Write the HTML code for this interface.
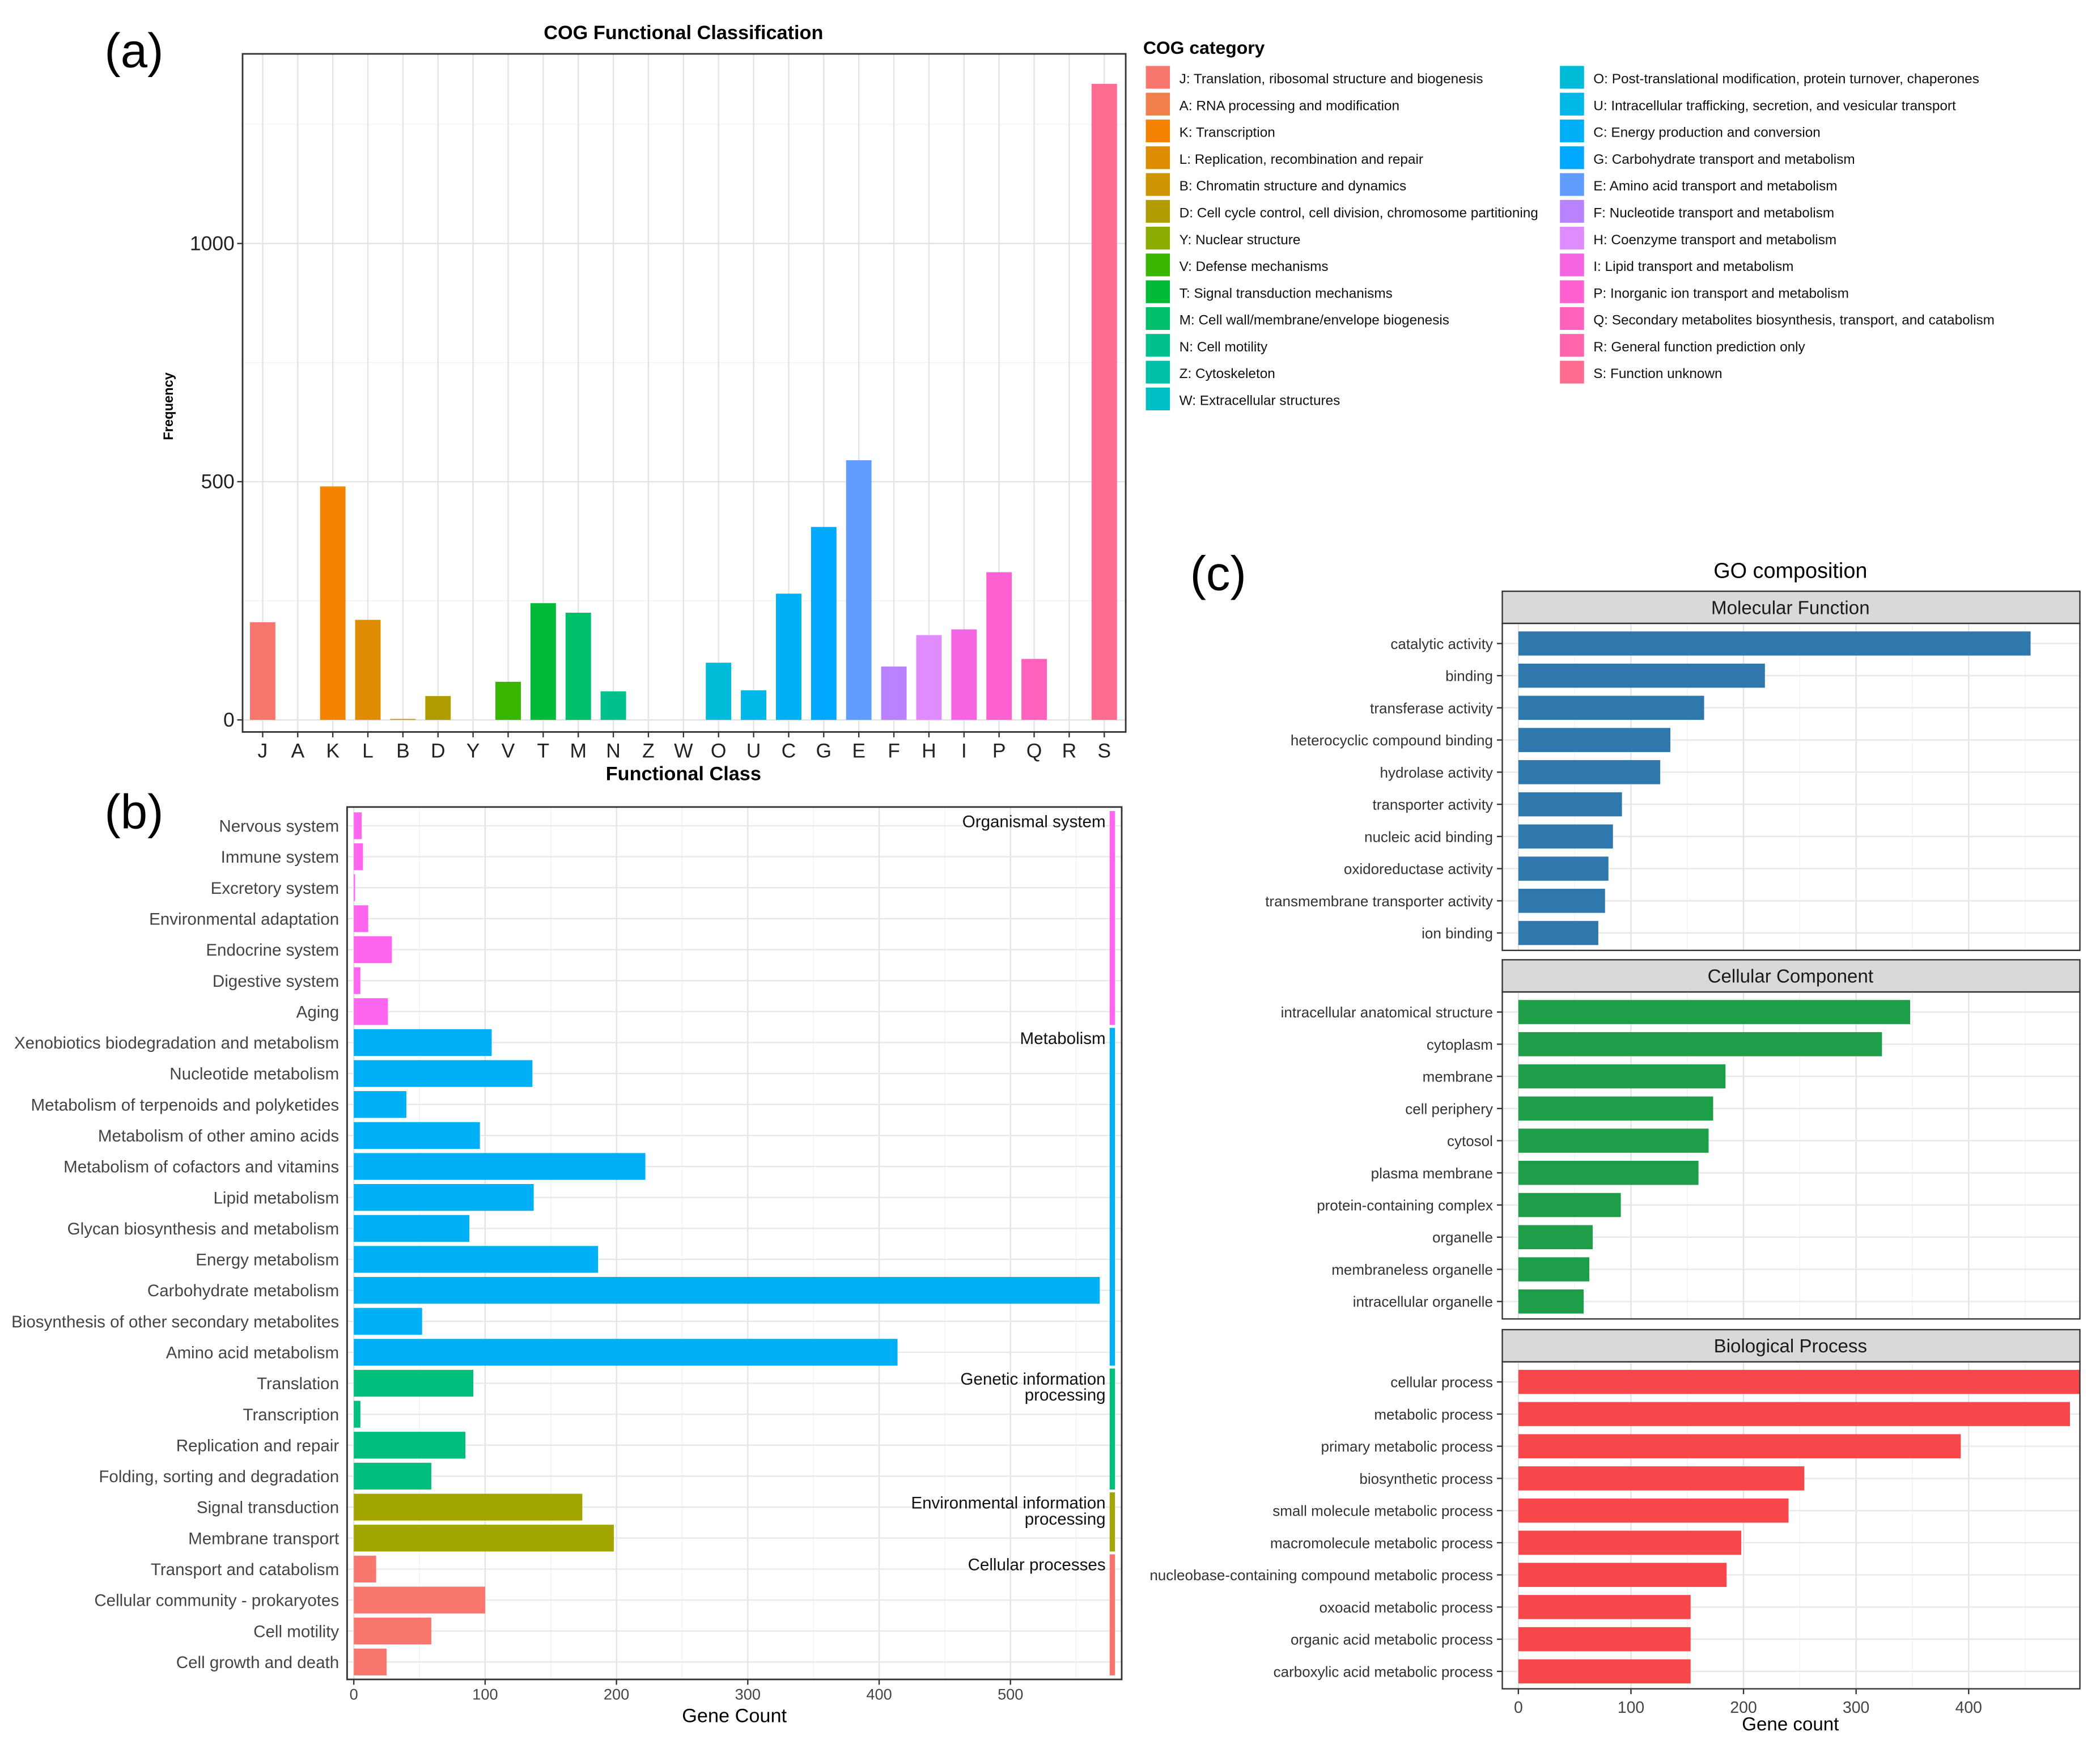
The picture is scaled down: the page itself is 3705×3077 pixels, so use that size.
<!DOCTYPE html>
<html><head><meta charset="utf-8"><style>
html,body{margin:0;padding:0;background:#fff}
svg{display:block;font-family:"Liberation Sans",Arial,sans-serif}
</style></head><body>
<svg id="fig" width="3705" height="3077" viewBox="0 0 1567 1301" xmlns="http://www.w3.org/2000/svg">
<rect width="1567" height="1301" fill="#fff"/>
<text x="78" y="50" font-size="36">(a)</text>
<text x="78" y="618" font-size="36">(b)</text>
<text x="888" y="440" font-size="36">(c)</text>
<g id="ga"></g>
<g id="gb"></g>
<g id="gc"></g>
</svg>
<script>
// ---- Panel (a) data
const cogCats = ["J","A","K","L","B","D","Y","V","T","M","N","Z","W","O","U","C","G","E","F","H","I","P","Q","R","S"];
const cogValues = [205,0,490,210,2,50,0,80,245,225,60,0,0,120,62,265,405,545,112,178,190,310,128,0,1335];
const cogTicks = [0,500,1000];
const cogColors = ["#F8766D","#F07F4B","#F48400","#DE8C00","#CD9600","#B09C00","#8BAB00","#39B600","#00BA38","#00BF6B","#00C08B","#00C1A7","#00BFC4","#00BCD8","#00B8E7","#00B0F6","#00A9FF","#619CFF","#B983FF","#DE8CFF","#F564E3","#FD61D1","#FF62BC","#FF65AC","#FF6C91"];
const cogLegend = ["J: Translation, ribosomal structure and biogenesis","A: RNA processing and modification","K: Transcription","L: Replication, recombination and repair","B: Chromatin structure and dynamics","D: Cell cycle control, cell division, chromosome partitioning","Y: Nuclear structure","V: Defense mechanisms","T: Signal transduction mechanisms","M: Cell wall/membrane/envelope biogenesis","N: Cell motility","Z: Cytoskeleton","W: Extracellular structures","O: Post-translational modification, protein turnover, chaperones","U: Intracellular trafficking, secretion, and vesicular transport","C: Energy production and conversion","G: Carbohydrate transport and metabolism","E: Amino acid transport and metabolism","F: Nucleotide transport and metabolism","H: Coenzyme transport and metabolism","I: Lipid transport and metabolism","P: Inorganic ion transport and metabolism","Q: Secondary metabolites biosynthesis, transport, and catabolism","R: General function prediction only","S: Function unknown"];
// ---- Panel (b) data
const keggCats = ["Nervous system","Immune system","Excretory system","Environmental adaptation","Endocrine system","Digestive system","Aging","Xenobiotics biodegradation and metabolism","Nucleotide metabolism","Metabolism of terpenoids and polyketides","Metabolism of other amino acids","Metabolism of cofactors and vitamins","Lipid metabolism","Glycan biosynthesis and metabolism","Energy metabolism","Carbohydrate metabolism","Biosynthesis of other secondary metabolites","Amino acid metabolism","Translation","Transcription","Replication and repair","Folding, sorting and degradation","Signal transduction","Membrane transport","Transport and catabolism","Cellular community - prokaryotes","Cell motility","Cell growth and death"];
const keggValues = [6,7,1,11,29,5,26,105,136,40,96,222,137,88,186,568,52,414,91,5,85,59,174,198,17,100,59,25];
const keggGroup = [0,0,0,0,0,0,0,1,1,1,1,1,1,1,1,1,1,1,2,2,2,2,3,3,4,4,4,4];
const keggGroupNames = [["Organismal system"],["Metabolism"],["Genetic information","processing"],["Environmental information","processing"],["Cellular processes"]];
const keggGroupColors = ["#FF66F0","#00B0F6","#00BF7D","#A3A500","#F8766D"];
const keggTicks = [0,100,200,300,400,500];
// ---- Panel (c) data
const goFacets = ["Molecular Function","Cellular Component","Biological Process"];
const mfCats = ["catalytic activity","binding","transferase activity","heterocyclic compound binding","hydrolase activity","transporter activity","nucleic acid binding","oxidoreductase activity","transmembrane transporter activity","ion binding"];
const mfValues = [455,219,165,135,126,92,84,80,77,71];
const ccCats = ["intracellular anatomical structure","cytoplasm","membrane","cell periphery","cytosol","plasma membrane","protein-containing complex","organelle","membraneless organelle","intracellular organelle"];
const ccValues = [348,323,184,173,169,160,91,66,63,58];
const bpCats = ["cellular process","metabolic process","primary metabolic process","biosynthetic process","small molecule metabolic process","macromolecule metabolic process","nucleobase-containing compound metabolic process","oxoacid metabolic process","organic acid metabolic process","carboxylic acid metabolic process"];
const bpValues = [500,490,393,254,240,198,185,153,153,153];
const goColors = ["#2E78AE","#1E9E48","#F8474B"];
const goTicks = [0,100,200,300,400];

const NS="http://www.w3.org/2000/svg";
function mk(parent,tag,attrs,text){const e=document.createElementNS(NS,tag);for(const k in attrs)e.setAttribute(k,attrs[k]);if(text!==undefined)e.textContent=text;parent.appendChild(e);return e;}

// ===== Panel A
(function(){
const g=document.getElementById('ga');
const L=181,R=840,T=40,B=546;
const y=v=>537-v*0.3555;
const x=i=>196+i*(824-196)/24;
mk(g,'rect',{x:L,y:T,width:R-L,height:B-T,fill:'#fff'});
[250,750,1250].forEach(v=>mk(g,'line',{x1:L,x2:R,y1:y(v),y2:y(v),stroke:'#F2F2F2','stroke-width':0.6}));
cogTicks.forEach(v=>mk(g,'line',{x1:L,x2:R,y1:y(v),y2:y(v),stroke:'#E3E3E3','stroke-width':1}));
cogCats.forEach((c,i)=>mk(g,'line',{x1:x(i),x2:x(i),y1:T,y2:B,stroke:'#E3E3E3','stroke-width':1}));
cogValues.forEach((v,i)=>{
 const r=mk(g,'rect',{x:x(i)-9.5,y:y(v),width:19,height:Math.max(0,y(0)-y(v)),fill:cogColors[i]});
 
 
});
mk(g,'rect',{x:L,y:T,width:R-L,height:B-T,fill:'none',stroke:'#333','stroke-width':1.2});
cogTicks.forEach(v=>{mk(g,'line',{x1:L-4,x2:L,y1:y(v),y2:y(v),stroke:'#333'});
 const t=mk(g,'text',{x:L-6,y:y(v)+5,'font-size':15,'text-anchor':'end',fill:'#222'},v);
 });
cogCats.forEach((c,i)=>{mk(g,'line',{x1:x(i),x2:x(i),y1:B,y2:B+4,stroke:'#333'});
 const t=mk(g,'text',{x:x(i),y:B+19,'font-size':15,'text-anchor':'middle',fill:'#222'},c);
 });
let t=mk(g,'text',{x:510,y:29,'font-size':14.5,'font-weight':'bold','text-anchor':'middle'},'COG Functional Classification');

t=mk(g,'text',{x:510,y:582,'font-size':14.5,'font-weight':'bold','text-anchor':'middle'},'Functional Class');

t=mk(g,'text',{x:129,y:303,'font-size':10,'font-weight':'bold','text-anchor':'middle',transform:'rotate(-90 129 303)'},'Frequency');

t=mk(g,'text',{x:853,y:40,'font-size':13.5,'font-weight':'bold'},'COG category');

cogLegend.forEach((s,i)=>{
 const col=i<13?0:1, row=i<13?i:i-13;
 const lx=col?1164:855, ly=49+row*20;
 const e=mk(g,'g',{});
 
 mk(e,'rect',{x:lx,y:ly,width:18,height:17,fill:cogColors[i]});
 mk(e,'text',{x:lx+25,y:ly+13,'font-size':10.3,fill:'#111'},s);
});
})();

// ===== Panel B
(function(){
const g=document.getElementById('gb');
const L=259,R=837,T=602,B=1253;
const x=v=>264+v*0.98;
const y=i=>616+i*(1240-616)/27;
[50,150,250,350,450,550].forEach(v=>mk(g,'line',{x1:x(v),x2:x(v),y1:T,y2:B,stroke:'#F2F2F2','stroke-width':0.6}));
keggTicks.forEach(v=>mk(g,'line',{x1:x(v),x2:x(v),y1:T,y2:B,stroke:'#E3E3E3'}));
keggCats.forEach((c,i)=>mk(g,'line',{x1:L,x2:R,y1:y(i),y2:y(i),stroke:'#E8E8E8'}));
keggValues.forEach((v,i)=>{
 const r=mk(g,'rect',{x:x(0),y:y(i)-10,width:Math.max(0.5,x(v)-x(0)),height:20,fill:keggGroupColors[keggGroup[i]]});
 
 
 const t=mk(g,'text',{x:253,y:y(i)+4.5,'font-size':12.5,'text-anchor':'end',fill:'#444'},keggCats[i]);
 
});
keggGroupNames.forEach((nm,gi)=>{
 const idx=keggGroup.map((gg,i)=>gg===gi?i:-1).filter(i=>i>=0);
 const y0=y(idx[0])-11,y1=y(idx[idx.length-1])+11;
 const s=mk(g,'rect',{x:828,y:y0,width:4,height:y1-y0-1,fill:keggGroupColors[gi]});
 
 nm.forEach((line,k)=>{const t=mk(g,'text',{x:825,y:y0+12+k*12,'font-size':12.5,'text-anchor':'end',fill:'#111'},line);
  });
});
mk(g,'rect',{x:L,y:T,width:R-L,height:B-T,fill:'none',stroke:'#333','stroke-width':1.2});
keggTicks.forEach(v=>{mk(g,'line',{x1:x(v),x2:x(v),y1:B,y2:B+4,stroke:'#333'});
 const t=mk(g,'text',{x:x(v),y:B+15,'font-size':11.5,'text-anchor':'middle',fill:'#444'},v);
 });
const t=mk(g,'text',{x:548,y:1285,'font-size':14.5,'text-anchor':'middle'},'Gene Count');

})();

// ===== Panel C
(function(){
const g=document.getElementById('gc');
const L=1121,R=1552;
const x=v=>1133+v*0.84;
let t=mk(g,'text',{x:1336,y:431,'font-size':16,'text-anchor':'middle'},'GO composition');

const cats=[mfCats,ccCats,bpCats], vals=[mfValues,ccValues,bpValues], tops=[441,716,992];
tops.forEach((st,f)=>{
 const pt=st+24,pb=pt+244;
 const strip=mk(g,'rect',{x:L,y:st,width:R-L,height:24,fill:'#D9D9D9',stroke:'#333','stroke-width':1});
 
 t=mk(g,'text',{x:1336,y:st+17,'font-size':14,'text-anchor':'middle',fill:'#1a1a1a'},goFacets[f]);
 
 [50,150,250,350,450].forEach(v=>mk(g,'line',{x1:x(v),x2:x(v),y1:pt,y2:pb,stroke:'#F2F2F2','stroke-width':0.6}));
 goTicks.forEach(v=>mk(g,'line',{x1:x(v),x2:x(v),y1:pt,y2:pb,stroke:'#E3E3E3'}));
 const y=i=>pt+15+i*24;
 cats[f].forEach((c,i)=>{
  mk(g,'line',{x1:L,x2:R,y1:y(i),y2:y(i),stroke:'#E8E8E8'});
  const r=mk(g,'rect',{x:x(0),y:y(i)-9,width:Math.min(x(vals[f][i]),R)-x(0),height:18,fill:goColors[f]});
  
  
  mk(g,'line',{x1:L-4,x2:L,y1:y(i),y2:y(i),stroke:'#333'});
  const tt=mk(g,'text',{x:1114,y:y(i)+4,'font-size':11,'text-anchor':'end',fill:'#333'},c);
  
 });
 mk(g,'rect',{x:L,y:pt,width:R-L,height:pb-pt,fill:'none',stroke:'#333','stroke-width':1});
});
const B=1260;
goTicks.forEach(v=>{mk(g,'line',{x1:x(v),x2:x(v),y1:B,y2:B+4,stroke:'#333'});
 const tt=mk(g,'text',{x:x(v),y:B+18,'font-size':12,'text-anchor':'middle',fill:'#444'},v);
 });
t=mk(g,'text',{x:1336,y:1291,'font-size':14,'text-anchor':'middle'},'Gene count');

})();
</script>
</body></html>
